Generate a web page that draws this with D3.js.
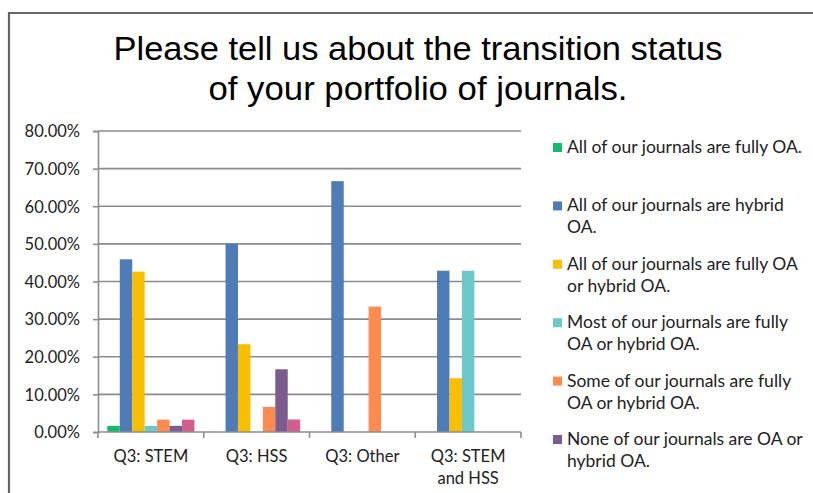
<html>
<head>
<meta charset="utf-8">
<script src="https://d3js.org/d3.v7.min.js"></script>
<style>
body { margin: 0; background: #fff; }
.chart text { fill: #222; font-family: Lato, "Open Sans", sans-serif; font-size: 16.5px; }
.chart .title { font-family: "Liberation Sans Narrow", "Liberation Sans", Arial, sans-serif; font-size: 34px; fill: #000; }
.chart .legend text { font-size: 17.5px; }
.grid line { stroke: #8c8c8c; stroke-width: 1.6px; }
.axis path, .axis line { stroke: #8c8c8c; stroke-width: 1.6px; }
</style>
</head>
<body>
<script>
// chart data
var categories = ["Q3: STEM", "Q3: HSS", "Q3: Other", "Q3: STEM and HSS"];
var seriesNames = [
    "All of our journals are fully OA.",
    "All of our journals are hybrid OA.",
    "All of our journals are fully OA or hybrid OA.",
    "Most of our journals are fully OA or hybrid OA.",
    "Some of our journals are fully OA or hybrid OA.",
    "None of our journals are OA or hybrid OA.",
    "Other"
];
var seriesColors = ["#14bb6a", "#4f7bb6", "#f8be00", "#6cc8cb", "#fd8b4f", "#7c5c8e", "#d35e90"];
// values in percent, one array per series (in category order)
var fullyOA    = [1.64, 0, 0, 0];
var hybridOA   = [45.9, 50.0, 66.67, 42.86];
var fullyOrHyb = [42.62, 23.33, 0, 14.29];
var mostOA     = [1.64, 0, 0, 42.86];
var someOA     = [3.28, 6.67, 33.33, 0];
var noneOA     = [1.64, 16.67, 0, 0];
var otherResp  = [3.28, 3.33, 0, 0];
var seriesValues = [fullyOA, hybridOA, fullyOrHyb, mostOA, someOA, noneOA, otherResp];
var yTicks = [0, 10, 20, 30, 40, 50, 60, 70, 80];
var titleLines = ["Please tell us about the transition status", "of your portfolio of journals."];

var W = 813, H = 493;
var plot = {left: 98, right: 521, top: 131, bottom: 432};

var svg = d3.select("body").append("svg")
    .attr("class", "chart")
    .attr("width", W)
    .attr("height", H);

// outer frame (cropped on right and bottom)
svg.append("path")
    .attr("d", "M9," + H + "V13H" + W)
    .attr("fill", "none")
    .attr("stroke", "#666")
    .attr("stroke-width", 2.2);

// title
svg.selectAll(".title")
    .data(titleLines)
  .enter().append("text")
    .attr("class", "title")
    .attr("x", 418)
    .attr("y", function(d, i) { return 60 + i * 40; })
    .attr("text-anchor", "middle")
    .attr("textLength", function(d, i) { return i == 0 ? 609 : 419; })
    .attr("lengthAdjust", "spacingAndGlyphs")
    .text(function(d) { return d; });

var y = d3.scaleLinear().domain([0, 80]).range([plot.bottom, plot.top]);
var x0 = d3.scaleBand().domain(categories).range([plot.left, plot.right]);
// Excel gap width 150%: 7 bars + 1.5 bar widths per category
var barW = x0.bandwidth() / (seriesNames.length + 1.5);
var x1 = d3.scaleBand().domain(d3.range(seriesNames.length))
    .range([0.75 * barW, x0.bandwidth() - 0.75 * barW]);

// gridlines
svg.append("g").attr("class", "grid")
    .selectAll("line")
    .data(yTicks.filter(function(t) { return t > 0; }))
  .enter().append("line")
    .attr("x1", plot.left).attr("x2", plot.right)
    .attr("y1", function(d) { return y(d); })
    .attr("y2", function(d) { return y(d); });

// y axis
svg.append("g").attr("class", "axis")
    .attr("transform", "translate(" + plot.left + ",0)")
    .call(d3.axisLeft(y).tickValues(yTicks).tickSize(5).tickPadding(13)
        .tickFormat(function(d) { return d3.format(".2f")(d) + "%"; }))
    .call(function(g) {
        g.selectAll("text").attr("dy", "0.35em").attr("font-size", null).attr("font-family", null);
        g.attr("font-size", null).attr("font-family", null);
    });

// bars
var groups = svg.append("g").selectAll("g")
    .data(seriesValues)
  .enter().append("g")
    .attr("fill", function(d, i) { return seriesColors[i]; });

groups.each(function(vals, si) {
    d3.select(this).selectAll("rect")
        .data(vals)
      .enter().append("rect")
        .attr("x", function(d, ci) { return x0(categories[ci]) + x1(si); })
        .attr("width", x1.bandwidth())
        .attr("y", function(d) { return y(d); })
        .attr("height", function(d) { return y(0) - y(d); });
});

// x axis
var xAxis = svg.append("g").attr("class", "axis")
    .attr("transform", "translate(0," + plot.bottom + ")");
xAxis.append("line")
    .attr("x1", plot.left).attr("x2", plot.right);
xAxis.selectAll(".tick")
    .data(d3.range(categories.length + 1))
  .enter().append("line")
    .attr("x1", function(d) { return plot.left + d * x0.step(); })
    .attr("x2", function(d) { return plot.left + d * x0.step(); })
    .attr("y1", 0).attr("y2", 6);

var xLabelLines = { "Q3: STEM and HSS": ["Q3: STEM", "and HSS"] };
xAxis.selectAll(".xlab")
    .data(categories)
  .enter().append("text")
    .attr("text-anchor", "middle")
    .attr("x", function(d) { return x0(d) + x0.bandwidth() / 2; })
    .attr("y", 30)
    .each(function(d) {
        var lines = xLabelLines[d] || [d];
        d3.select(this).selectAll("tspan")
            .data(lines)
          .enter().append("tspan")
            .attr("x", x0(d) + x0.bandwidth() / 2)
            .attr("dy", function(l, i) { return i == 0 ? 0 : 22; })
            .text(function(l) { return l; });
    });

// legend (the 7th entry falls below the visible area, so only the first six are shown)
var legend = svg.append("g").attr("class", "legend").selectAll("g")
    .data(seriesNames.slice(0, 6))
  .enter().append("g")
    .attr("transform", function(d, i) { return "translate(553," + (148 + i * 58.4) + ")"; });

legend.append("rect")
    .attr("x", 0).attr("y", -5)
    .attr("width", 9).attr("height", 9)
    .attr("fill", function(d, i) { return seriesColors[i]; });

legend.append("text")
    .attr("x", 14)
    .attr("y", 5)
    .attr("dy", "0.35em")
    .each(function(d) {
        var el = d3.select(this);
        var words = d.split(" ");
        var line = [];
        var tspan = el.append("tspan").attr("x", 14).attr("dy", 0);
        words.forEach(function(w) {
            line.push(w);
            tspan.text(line.join(" "));
            if (tspan.node().getComputedTextLength() > 243 && line.length > 1) {
                line.pop();
                tspan.text(line.join(" "));
                line = [w];
                tspan = el.append("tspan").attr("x", 14).attr("dy", 22).text(w);
            }
        });
    });
</script>
</body>
</html>
